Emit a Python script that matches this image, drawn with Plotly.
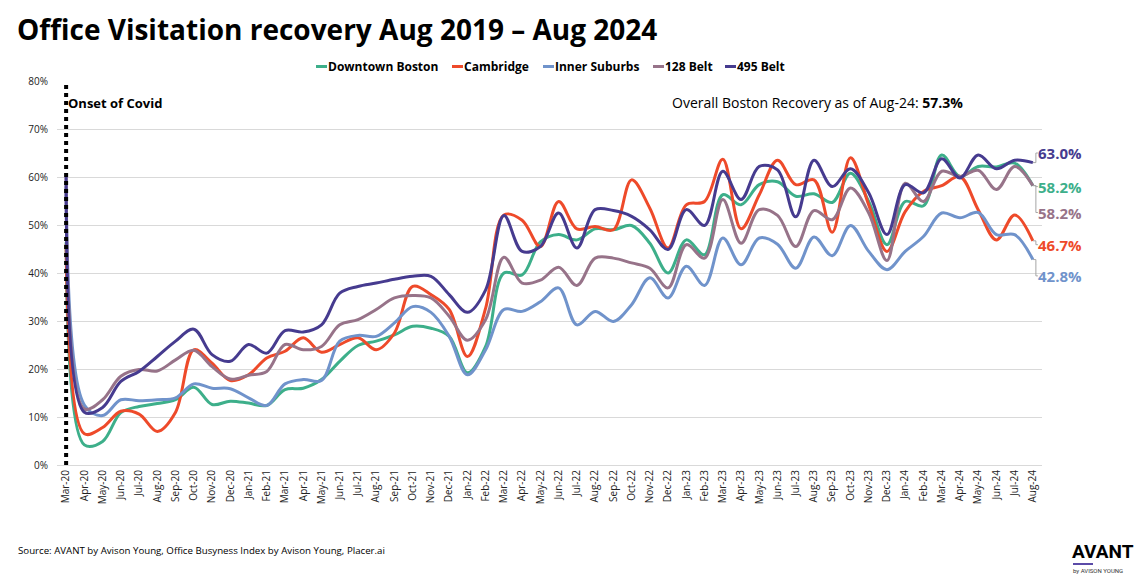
import plotly.graph_objects as go

months = ["Mar-20","Apr-20","May-20","Jun-20","Jul-20","Aug-20","Sep-20","Oct-20","Nov-20","Dec-20",
          "Jan-21","Feb-21","Mar-21","Apr-21","May-21","Jun-21","Jul-21","Aug-21","Sep-21","Oct-21","Nov-21","Dec-21",
          "Jan-22","Feb-22","Mar-22","Apr-22","May-22","Jun-22","Jul-22","Aug-22","Sep-22","Oct-22","Nov-22","Dec-22",
          "Jan-23","Feb-23","Mar-23","Apr-23","May-23","Jun-23","Jul-23","Aug-23","Sep-23","Oct-23","Nov-23","Dec-23",
          "Jan-24","Feb-24","Mar-24","Apr-24","May-24","Jun-24","Jul-24","Aug-24"]

downtown_boston = [46.4, 4.2, 4.9, 10.9, 12.2, 12.8, 13.6, 16.2, 12.6, 13.3, 12.9, 12.4, 15.7, 16.0, 17.8, 21.6,
                   24.9, 25.8, 27.1, 28.9, 28.5, 26.8, 19.2, 24.7, 40.0, 39.6, 46.5, 48.0, 46.9, 49.2, 49.0, 49.9,
                   46.2, 40.0, 46.9, 43.8, 56.3, 54.2, 58.4, 59.0, 56.0, 56.5, 54.7, 60.8, 54.9, 45.9, 54.9, 54.0,
                   64.6, 60.1, 62.2, 62.1, 62.9, 58.2]
cambridge = [46.0, 6.5, 7.8, 11.2, 10.6, 7.0, 11.0, 24.0, 21.2, 17.6, 18.8, 22.3, 23.7, 26.5, 23.5, 25.1,
             26.5, 24.0, 27.5, 37.2, 35.5, 32.4, 22.6, 32.7, 52.1, 51.0, 45.5, 54.9, 49.2, 49.7, 49.0, 59.4,
             53.5, 45.2, 54.2, 54.9, 63.7, 49.2, 56.3, 63.5, 58.4, 59.4, 48.5, 64.0, 54.2, 44.5, 52.8, 57.0,
             58.2, 60.1, 53.2, 46.9, 52.1, 46.7]
inner_suburbs = [58.0, 12.5, 10.3, 13.6, 13.4, 13.6, 14.0, 16.9, 16.0, 15.9, 14.0, 12.4, 16.9, 17.8, 17.6, 25.8,
                 27.0, 26.8, 29.6, 33.0, 31.8, 26.8, 18.8, 24.0, 32.4, 32.0, 34.0, 36.9, 29.2, 32.0, 29.9, 33.4,
                 39.0, 34.8, 41.4, 37.4, 47.3, 41.7, 47.3, 46.0, 41.0, 47.5, 43.6, 49.9, 44.5, 40.7, 44.5, 47.6,
                 52.5, 51.5, 52.6, 48.0, 48.0, 42.8]
belt_128 = [60.0, 11.7, 13.6, 18.5, 19.9, 19.6, 21.9, 23.9, 20.5, 17.9, 18.7, 19.5, 25.1, 24.0, 24.7, 29.2,
            30.3, 32.4, 34.8, 35.3, 34.8, 31.0, 26.0, 30.3, 43.3, 37.9, 38.5, 41.2, 37.4, 43.1, 43.1, 42.1,
            41.0, 36.9, 45.9, 43.1, 55.3, 46.2, 53.2, 52.0, 45.5, 53.0, 51.1, 57.7, 52.5, 42.6, 58.7, 54.9,
            61.2, 60.1, 61.4, 57.4, 62.2, 58.2]
belt_495 = [60.0, 11.0, 12.0, 17.4, 19.5, 22.6, 25.8, 28.3, 23.0, 21.6, 25.1, 23.3, 28.0, 27.7, 29.2, 35.8,
            37.2, 37.9, 38.7, 39.3, 39.3, 35.5, 31.8, 36.5, 52.0, 44.5, 45.5, 52.5, 45.2, 53.2, 53.0, 51.8,
            49.0, 44.9, 53.2, 49.9, 61.2, 55.3, 62.2, 61.5, 51.7, 63.5, 58.0, 61.7, 56.7, 48.0, 58.4, 56.7,
            63.8, 59.8, 64.6, 61.7, 63.5, 63.0]

series_names = ["Downtown Boston", "Cambridge", "Inner Suburbs", "128 Belt", "495 Belt"]
series_values = [downtown_boston, cambridge, inner_suburbs, belt_128, belt_495]
series_colors = ["#3DAF8A", "#EE4A2A", "#7093CB", "#977389", "#463B8F"]
end_labels = ["58.2%", "46.7%", "42.8%", "58.2%", "63.0%"]
end_label_y = [58.0, 45.9, 39.4, 52.6, 65.0]   # where each end label sits (y units)
overall_recovery = "57.3%"

FONT = "Open Sans"
W, H = 1143, 576
L, R, T, B = 57, 101, 81, 111
PW, PH = W - L - R, H - T - B

def px(xp):
    return (xp - L) / PW

def py(yp):
    return (H - B - yp) / PH

fig = go.Figure()
for name, vals, col in zip(series_names, series_values, series_colors):
    fig.add_trace(go.Scatter(x=months, y=vals, mode="lines", name=name, showlegend=False,
                             line=dict(color=col, width=3, shape="spline", smoothing=1.0),
                             hoverinfo="x+y+name"))

shapes = []
annotations = []

# Onset of Covid dotted line
shapes.append(dict(type="line", xref="x", yref="y", x0=months[0], x1=months[0], y0=0, y1=80,
                   line=dict(color="black", width=4, dash="dot"), layer="above"))
annotations.append(dict(xref="paper", yref="paper", x=px(66), y=py(103), xanchor="left", yanchor="middle",
                        text="<b>Onset of Covid</b>", showarrow=False,
                        font=dict(family=FONT, size=13, color="black")))
annotations.append(dict(xref="paper", yref="paper", x=px(670), y=py(102), xanchor="left", yanchor="middle",
                        text="Overall Boston Recovery as of Aug-24: <b>" + overall_recovery + "</b>", showarrow=False,
                        font=dict(family=FONT, size=14, color="black")))

# End labels with leader lines
for vals, col, lab, ly in zip(series_values, series_colors, end_labels, end_label_y):
    v = vals[-1]
    for (a0, b0, a1, b1) in [(0, v, 3, v), (3, v, 3, ly), (3, ly, 5, ly)]:
        shapes.append(dict(type="line", xref="x", yref="y", xsizemode="pixel", xanchor=months[-1],
                           x0=a0, x1=a1, y0=b0, y1=b1, line=dict(color="#A6A6A6", width=1), layer="above"))
    annotations.append(dict(xref="x", yref="y", x=months[-1], y=ly, xshift=3, xanchor="left", yanchor="middle",
                            text="<b>" + lab + "</b>", showarrow=False,
                            font=dict(family=FONT, size=15, color=col)))

# Manual legend
legend_line_x = [316, 452, 543, 653, 725]
legend_y = 66.5
for name, col, lx in zip(series_names, series_colors, legend_line_x):
    shapes.append(dict(type="line", xref="paper", yref="paper", x0=px(lx), x1=px(lx + 11),
                       y0=py(legend_y), y1=py(legend_y), line=dict(color=col, width=3)))
    annotations.append(dict(xref="paper", yref="paper", x=px(lx + 10), y=py(legend_y), xanchor="left",
                            yanchor="middle", text="<b>" + name + "</b>", showarrow=False,
                            font=dict(family=FONT, size=12, color="black")))

# Source
annotations.append(dict(xref="paper", yref="paper", x=px(16), y=py(550), xanchor="left", yanchor="middle",
                        text="Source: AVANT by Avison Young, Office Busyness Index by Avison Young, Placer.ai",
                        showarrow=False, font=dict(family=FONT, size=9.7, color="black")))
# Logo
annotations.append(dict(xref="paper", yref="paper", x=px(1070), y=py(551), xanchor="left", yanchor="middle",
                        text="<b>AVANT</b>", showarrow=False, font=dict(family="Roboto", size=19, color="black")))
shapes.append(dict(type="line", xref="paper", yref="paper", x0=px(1073), x1=px(1093), y0=py(564), y1=py(564),
                   line=dict(color="#5B4BA8", width=2)))
annotations.append(dict(xref="paper", yref="paper", x=px(1071), y=py(570), xanchor="left", yanchor="middle",
                        text="by AVISON YOUNG", showarrow=False, font=dict(family="Roboto", size=6, color="#333")))

fig.update_layout(
    width=W, height=H, autosize=False,
    margin=dict(l=L, r=R, t=T, b=B, pad=0),
    paper_bgcolor="white", plot_bgcolor="white",
    title=dict(text="<b>Office Visitation recovery Aug 2019 – Aug 2024</b>", x=17 / W, xanchor="left",
               xref="container", yref="container", y=1 - 30 / H, yanchor="middle",
               font=dict(family=FONT, size=28, color="black")),
    shapes=shapes, annotations=annotations,
    showlegend=False,
    xaxis=dict(type="category", range=[-0.5, len(months) - 0.5], tickangle=-90, showgrid=False,
               showline=True, linecolor="#D9D9D9", linewidth=1, zeroline=False, ticks="",
               tickfont=dict(family=FONT, size=10, color="#222")),
    yaxis=dict(range=[0, 80], dtick=10, ticksuffix="%", showgrid=True, gridcolor="#D9D9D9", gridwidth=1,
               zeroline=False, showline=False, ticks="outside", ticklen=6, tickcolor="rgba(0,0,0,0)",
               tickfont=dict(family=FONT, size=10, color="#222")),
)

fig.write_html("out.html", config={"displayModeBar": False},
               post_script="document.body.style.margin='0';document.body.style.padding='0';")
